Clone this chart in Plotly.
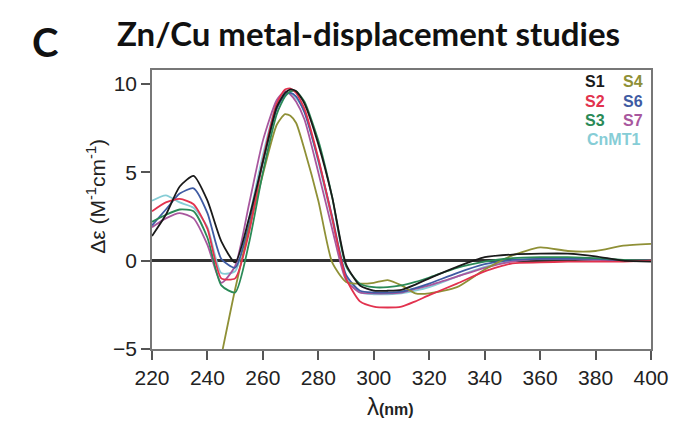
import plotly.graph_objects as go

wavelength = [220, 225, 230, 235, 240, 245, 250, 255, 260, 265, 268, 270, 272, 275, 280, 285, 290,
              295, 300, 305, 310, 315, 320, 330, 340, 350, 360, 370, 380, 390, 400]

s1 = [1.4, 2.6, 4.2, 4.8, 3.4, 1.1, -0.1, 2.4, 5.6, 8.7, 9.5, 9.7, 9.6, 8.9, 6.6, 3.6, -0.2,
      -1.4, -1.7, -1.7, -1.65, -1.35, -1.0, -0.35, 0.2, 0.35, 0.4, 0.4, 0.25, 0.0, -0.05]
s2 = [2.8, 3.3, 3.5, 3.2, 1.8, -1.0, -1.0, 1.6, 5.7, 8.9, 9.7, 9.75, 9.5, 8.6, 5.8, 2.4, -1.0,
      -2.3, -2.6, -2.65, -2.6, -2.3, -1.95, -1.3, -0.6, -0.15, -0.1, -0.05, -0.05, -0.05, 0.0]
s3 = [2.2, 2.6, 2.9, 2.8, 1.3, -1.4, -1.8, 1.0, 5.0, 8.3, 9.3, 9.6, 9.6, 9.0, 6.8, 3.6, -0.3,
      -1.3, -1.5, -1.5, -1.4, -1.2, -0.95, -0.4, -0.05, 0.15, 0.2, 0.2, 0.15, 0.05, 0.0]
s4 = [None, None, None, None, None, -5.4, -1.6, 1.8, 4.9, 7.7, 8.3, 8.2, 7.8, 6.3, 3.4, -0.1, -1.2,
      -1.3, -1.25, -1.1, -1.4, -1.85, -1.85, -1.5, -0.5, 0.3, 0.75, 0.55, 0.55, 0.85, 0.95]
s6 = [2.0, 2.9, 3.8, 4.1, 2.7, 0.1, -0.4, 2.0, 5.6, 8.6, 9.4, 9.5, 9.3, 8.4, 5.7, 2.5, -0.8,
      -1.7, -1.8, -1.8, -1.75, -1.55, -1.3, -0.7, -0.2, 0.05, 0.1, 0.1, 0.1, 0.0, 0.0]
s7 = [1.9, 2.4, 2.7, 2.4, 0.9, -1.25, -0.3, 3.2, 6.8, 9.1, 9.6, 9.4, 9.0, 8.0, 5.0, 1.8, -1.1,
      -1.8, -1.85, -1.85, -1.8, -1.6, -1.4, -0.9, -0.4, -0.05, 0.1, 0.1, 0.05, 0.0, 0.0]
cnmt1 = [3.4, 3.7, 3.3, 3.0, 1.9, -0.7, -0.6, 2.4, 6.0, 8.9, 9.5, 9.5, 9.2, 8.5, 5.6, 2.3, -0.9,
         -1.8, -1.9, -1.9, -1.85, -1.7, -1.5, -0.9, -0.35, 0.0, 0.1, 0.1, 0.05, 0.0, 0.0]

series_names = ["CnMT1", "S7", "S6", "S4", "S3", "S2", "S1"]
series_values = [cnmt1, s7, s6, s4, s3, s2, s1]
series_colors = ["#86cdd6", "#a8579e", "#3f5ba3", "#8f9036", "#2a8a57", "#e2324e", "#1a1a1a"]

x_ticks = [220, 240, 260, 280, 300, 320, 340, 360, 380, 400]
y_ticks = [-5, 0, 5, 10]

fig = go.Figure()
for name, vals, col in zip(series_names, series_values, series_colors):
    fig.add_trace(go.Scatter(x=wavelength, y=vals, mode="lines", name=name,
                             line=dict(color=col, width=1.8, shape="spline", smoothing=0.6)))

axis_font = dict(family="Liberation Sans", size=21, color="#222")
fig.update_layout(
    width=681, height=423,
    margin=dict(l=152, r=23, t=70, b=74),
    paper_bgcolor="white", plot_bgcolor="white",
    showlegend=False,
    xaxis=dict(range=[220, 400], tickvals=x_ticks, ticks="outside", ticklen=9, tickwidth=1.5,
               tickcolor="#555", showline=True, linecolor="#777", linewidth=1.5, mirror=True,
               showgrid=False, zeroline=False, tickfont=axis_font),
    yaxis=dict(range=[-5, 10.8], tickvals=y_ticks, ticks="outside", ticklen=9, tickwidth=1.5,
               tickcolor="#555", showline=True, linecolor="#777", linewidth=1.5, mirror=True,
               showgrid=False, zeroline=True, zerolinecolor="#333", zerolinewidth=2.5,
               tickfont=axis_font),
)


def px(xp):
    return (xp - 152) / 506


def py(yp):
    return (349 - yp) / 279


ann = [
    dict(text="<b>C</b>", x=px(44), y=py(42), font=dict(family="Lato", size=40, color="#111")),
    dict(text="<b>Zn/Cu metal-displacement studies</b>", x=px(372), y=py(33),
         font=dict(family="Lato", size=33, color="#111")),
    dict(text="Δε (M<sup>-1</sup>cm<sup>-1</sup>)", x=px(95), y=py(196), textangle=-90,
         font=dict(family="Liberation Sans", size=21, color="#222")),
    dict(text="λ<span style='font-size:16px'><b>(nm)</b></span>", x=px(394), y=py(406),
         font=dict(family="Liberation Sans", size=24, color="#222")),
]
legend_items = [("S1", "#1a1a1a", 601, 82), ("S4", "#8f9036", 640, 82),
                ("S2", "#e2324e", 601, 101), ("S6", "#3f5ba3", 640, 101),
                ("S3", "#2a8a57", 601, 120), ("S7", "#a8579e", 640, 120),
                ("CnMT1", "#86cdd6", 620, 139)]
for t, c, xx, yy in legend_items:
    ann.append(dict(text="<b>%s</b>" % t, x=px(xx), y=py(yy),
                    font=dict(family="Liberation Sans", size=16, color=c)))
for a in ann:
    a.update(xref="paper", yref="paper", showarrow=False, xanchor="center", yanchor="middle")
fig.update_layout(annotations=ann)

fig.write_html("out.html")
